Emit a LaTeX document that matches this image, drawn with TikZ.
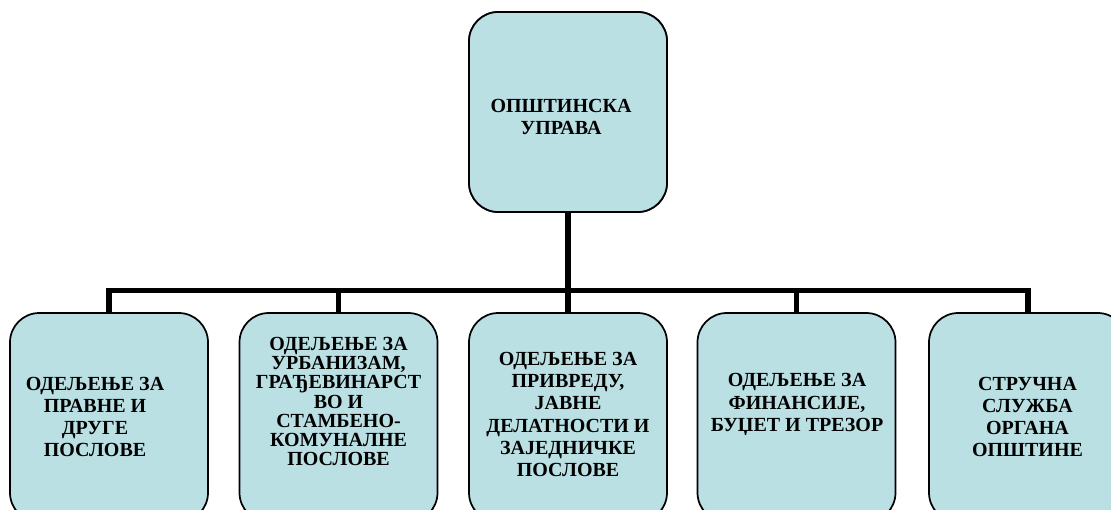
\documentclass[tikz,border=0pt]{standalone}
\usepackage{fontspec}
\setmainfont{Liberation Serif}
\definecolor{boxfill}{RGB}{186,224,228}
\tikzset{
  orgbox/.style={draw=black, line width=1.3pt, fill=boxfill, rounded corners=22pt,
    minimum width=148.5pt, minimum height=156.75pt, inner sep=0pt},
  topbox/.style={orgbox, minimum height=150pt},
  bar/.style={line width=4.3pt, line join=miter, line cap=rect},
  label/.style={align=center, inner sep=0pt,
    font=\bfseries\fontsize{15}{16.6}\selectfont},
  tightlabel/.style={label, font=\bfseries\fontsize{15}{14.4}\selectfont}
}
\begin{document}
\begin{tikzpicture}[x=0.75pt, y=-0.75pt]
\useasboundingbox (0,0) rectangle (1111,510);
\clip (0,0) rectangle (1111,510);
\fill[white] (0,0) rectangle (1111,510);
% bus coordinate
\coordinate (bus) at (568,290.5);
% box positions
\path (568,112) node[topbox] (top) {};
\path (109,417.5) coordinate (c1) (338.5,417.5) coordinate (c2) (568,417.5) coordinate (c3)
      (796.5,417.5) coordinate (c4) (1028,417.5) coordinate (c5);
\path (c1) node[orgbox, draw=none, fill=none] (p1) {};
\path (c2) node[orgbox, draw=none, fill=none] (p2) {};
\path (c3) node[orgbox, draw=none, fill=none] (p3) {};
\path (c4) node[orgbox, draw=none, fill=none] (p4) {};
\path (c5) node[orgbox, draw=none, fill=none] (p5) {};
% connectors (drawn under the boxes)
\draw[bar] (top.south) -- (bus);
\draw[bar] (p1.north) -- (p1.north |- bus) -- (p5.north |- bus) -- (p5.north);
\draw[bar] (p2.north) -- (p2.north |- bus);
\draw[bar] (p3.north) -- (p3.north |- bus);
\draw[bar] (p4.north) -- (p4.north |- bus);
% boxes on top
\node[topbox] (topb) at (top) {};
\node[orgbox] (b1) at (c1) {};
\node[orgbox] (b2) at (c2) {};
\node[orgbox] (b3) at (c3) {};
\node[orgbox] (b4) at (c4) {};
\node[orgbox] (b5) at (c5) {};
% texts
\node[label] (t0) at (561,117) {ОПШТИНСКА\\УПРАВА};
\node[label] (t1) at (95,417) {ОДЕЉЕЊЕ ЗА\\ПРАВНЕ И\\ДРУГЕ\\ПОСЛОВЕ};
\node[tightlabel] (t2) at (338.5,401.5) {ОДЕЉЕЊЕ ЗА\\УРБАНИЗАМ,\\ГРАЂЕВИНАРСТ\\ВО И\\СТАМБЕНО-\\КОМУНАЛНЕ\\ПОСЛОВЕ};
\node[label] (t3) at (568,414.5) {ОДЕЉЕЊЕ ЗА\\ПРИВРЕДУ,\\ЈАВНЕ\\ДЕЛАТНОСТИ И\\ЗАЈЕДНИЧКЕ\\ПОСЛОВЕ};
\node[label] (t4) at (797,404.5) {ОДЕЉЕЊЕ ЗА\\ФИНАНСИЈЕ,\\БУЏЕТ И ТРЕЗОР};
\node[label] (t5) at (1027.5,417) {СТРУЧНА\\СЛУЖБА\\ОРГАНА\\ОПШТИНЕ};
\end{tikzpicture}
\end{document}
